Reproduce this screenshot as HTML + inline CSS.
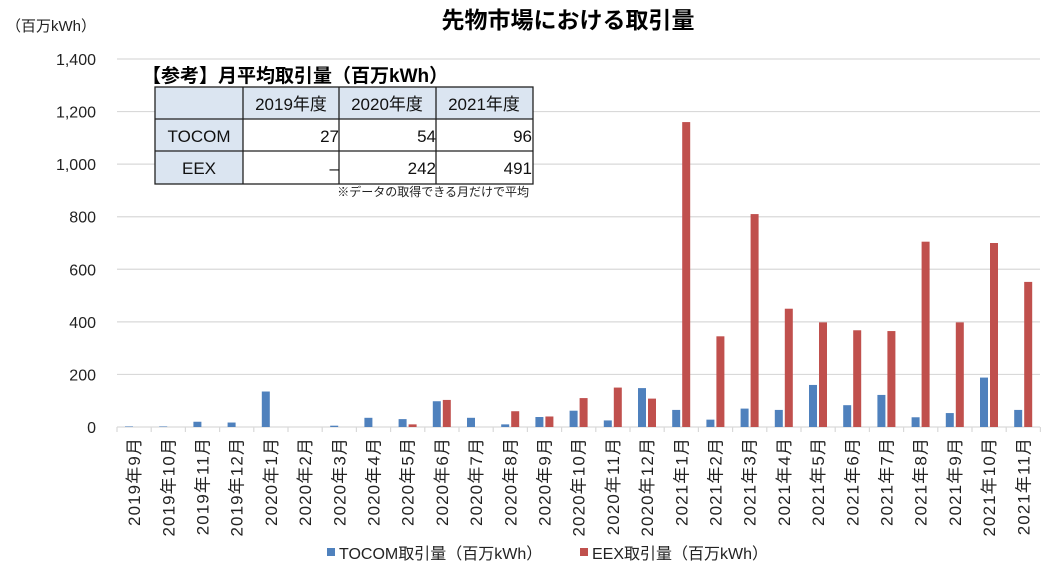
<!DOCTYPE html>
<html><head><meta charset="utf-8"><style>
body{margin:0;width:1064px;height:570px;background:#fff;overflow:hidden;font-family:"Liberation Sans","Noto Sans CJK JP",sans-serif;}
</style></head><body>
<svg width="1064" height="570" xmlns="http://www.w3.org/2000/svg" font-family="Liberation Sans, Noto Sans CJK JP, sans-serif">
<text x="568" y="28" text-anchor="middle" font-size="23" font-weight="bold" fill="#000">先物市場における取引量</text>
<text x="6" y="31" font-size="15" fill="#222">（百万kWh）</text>
<g id="grid" stroke="#d9d9d9" stroke-width="1.2"></g>
<g id="ylab" font-size="16" fill="#222" text-anchor="end"></g>
<g id="bars"></g>
<g id="xl" font-size="17" letter-spacing="1.1" fill="#222"></g>
<rect x="155" y="87" width="378" height="97" fill="#fff"/>
<rect x="155" y="87" width="88" height="97" fill="#dbe5f1"/>
<rect x="243" y="87" width="290" height="32" fill="#dbe5f1"/>
<g stroke="#222" stroke-width="1.3" fill="none">
<rect x="155" y="87" width="378" height="97"/>
<line x1="155" y1="119" x2="533" y2="119"/><line x1="155" y1="151" x2="533" y2="151"/>
<line x1="243" y1="87" x2="243" y2="184"/><line x1="339" y1="87" x2="339" y2="184"/><line x1="436" y1="87" x2="436" y2="184"/>
</g>
<text x="142" y="82" font-size="19" font-weight="bold" fill="#000">【参考】月平均取引量（百万kWh）</text>
<g font-size="17" fill="#111">
<text x="291" y="110" text-anchor="middle">2019年度</text><text x="387" y="110" text-anchor="middle">2020年度</text><text x="484" y="110" text-anchor="middle">2021年度</text>
<text x="199" y="142" text-anchor="middle">TOCOM</text><text x="199" y="174" text-anchor="middle">EEX</text>
<text x="339" y="142" text-anchor="end">27</text><text x="436" y="142" text-anchor="end">54</text><text x="532" y="142" text-anchor="end">96</text>
<text x="339" y="174" text-anchor="end">–</text><text x="436" y="174" text-anchor="end">242</text><text x="532" y="174" text-anchor="end">491</text>
</g>
<text x="529" y="196" font-size="12" text-anchor="end" fill="#222">※データの取得できる月だけで平均</text>
<rect x="327" y="548" width="8" height="8" fill="#4f81bd"/>
<text x="339" y="559" font-size="16" fill="#222">TOCOM取引量（百万kWh）</text>
<rect x="580" y="548" width="8" height="8" fill="#c0504d"/>
<text x="592" y="559" font-size="16" fill="#222">EEX取引量（百万kWh）</text>
</svg>
<script>
const ns="http://www.w3.org/2000/svg";
function el(p,t,a,tx){const e=document.createElementNS(ns,t);for(const k in a)e.setAttribute(k,a[k]);if(tx)e.textContent=tx;document.getElementById(p).appendChild(e);}
const y0=427,s=368/1400,L=117,W=34.2;
for(let v=0;v<=1400;v+=200){const y=y0-v*s;el("grid","line",{x1:L,x2:1040,y1:y,y2:y});el("ylab","text",{x:96,y:y+6},v.toLocaleString("en-US"));}
for(let i=0;i<=27;i++){const x=L+i*W;el("grid","line",{x1:x,x2:x,y1:y0,y2:y0+5});}
const T=[2,2,20,17,135,0,5,35,30,98,35,10,38,62,25,148,65,28,70,65,160,83,122,37,53,188,65];
const E=[0,0,0,0,0,0,0,0,10,103,0,60,40,110,150,108,1160,345,810,450,398,368,365,705,398,700,552];
const lab=["2019年9月","2019年10月","2019年11月","2019年12月","2020年1月","2020年2月","2020年3月","2020年4月","2020年5月","2020年6月","2020年7月","2020年8月","2020年9月","2020年10月","2020年11月","2020年12月","2021年1月","2021年2月","2021年3月","2021年4月","2021年5月","2021年6月","2021年7月","2021年8月","2021年9月","2021年10月","2021年11月"];
for(let i=0;i<27;i++){const x=L+i*W;
if(T[i])el("bars","rect",{x:x+8,y:y0-T[i]*s,width:8,height:T[i]*s,fill:"#4f81bd"});
if(E[i])el("bars","rect",{x:x+18,y:y0-E[i]*s,width:8,height:E[i]*s,fill:"#c0504d"});
const cx=x+W/2+6;el("xl","text",{x:0,y:0,transform:`translate(${cx},437) rotate(-90)`,"text-anchor":"end"},lab[i]);}
</script>
</body></html>
